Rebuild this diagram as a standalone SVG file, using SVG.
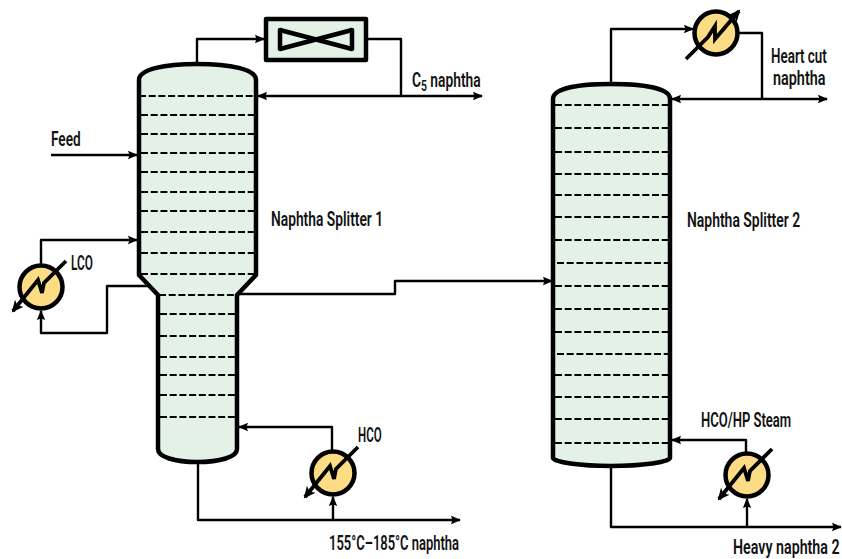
<svg xmlns="http://www.w3.org/2000/svg" width="842" height="559" viewBox="0 0 842 559">
<style>
.v{fill:#e4f1e6;stroke:#000;stroke-width:4.5;stroke-linejoin:round}
.t{fill:none;stroke:#000;stroke-width:2;stroke-dasharray:7 2.7}
.c{fill:none;stroke:#000;stroke-width:2.4;stroke-linejoin:round}
.hx{fill:#fddc86;stroke:#000;stroke-width:4.5}
.hl{fill:none;stroke:#000;stroke-width:3.8;stroke-linejoin:miter}
text{font-family:"Roboto","Liberation Sans",sans-serif;font-size:20px;font-weight:600;fill:#111}
</style>
<defs>
<marker id="a" markerUnits="userSpaceOnUse" markerWidth="12" markerHeight="10" refX="9" refY="5" orient="auto"><path d="M0 0.8L10 5L0 9.2L1.5 5Z" fill="#000"/></marker>
<marker id="b" markerUnits="userSpaceOnUse" markerWidth="14" markerHeight="14" refX="10" refY="6" orient="auto"><path d="M0 0.5L12 6L0 11.5L3 6Z" fill="#000"/></marker>
<path id="bolt" class="hl" d="M25 -26L3 -4L1 6L-3 -7L-28 24" marker-end="url(#b)"/>
<path id="boltr" class="hl" d="M-30 26L-8 4L-1 -7L-1 6L23 -22" marker-end="url(#b)"/>
</defs>
<g id="column1">
<path class="v" d="M139 80C139 69 165 64 197 64C230 64 256 69 256 80V275L237 295V449C237 457 220 462 197 462C175 462 158 457 158 449V295L139 275Z"/>
<path class="t" d="M139 96H256M141 115H254M141 134H254M141 153H254M141 172H254M141 192H254M141 211H254M141 232H254M141 253H254M141 274H256M159 295H237M160 314H235M160 336H235M160 357H235M160 375H235M160 395H235M160 417H235"/>
</g>
<g id="column2">
<path class="v" d="M553 99C553 88 580 84 611 84C642 84 670 88 670 99V458C670 462 642 466 611 466C580 466 553 462 553 458Z"/>
<path class="t" d="M555 105H668M555 128H668M555 152H668M555 174H668M555 195H668M555 217H668M555 240H668M557 263H668M555 286H668M555 309H668M555 332H668M557 354H668M555 375H668M555 397H668M555 419H668M555 443H668"/>
</g>
<g id="condenser">
<rect x="266" y="19" width="100" height="41" class="v"/>
<path d="M280 30L352 49V30L280 49Z" fill="none" stroke="#000" stroke-width="4.5" stroke-linejoin="round"/>
</g>
<g id="exchanger-lco">
<circle cx="41" cy="287" r="21.5" class="hx"/>
<use href="#bolt" x="41" y="287"/>
</g>
<g id="exchanger-hco">
<circle cx="333" cy="473" r="21.5" class="hx"/>
<use href="#bolt" x="333" y="473"/>
</g>
<g id="exchanger-top">
<circle cx="716" cy="33" r="21.5" class="hx"/>
<use href="#boltr" x="716" y="33"/>
</g>
<g id="exchanger-bottom">
<circle cx="747" cy="475" r="21.5" class="hx"/>
<use href="#bolt" x="747" y="475"/>
</g>
<g id="connectors">
<path class="c" d="M197 62V39H264" marker-end="url(#a)"/>
<path class="c" d="M368 39H401V96"/>
<path class="c" d="M401 96H258" marker-end="url(#a)"/>
<path class="c" d="M401 96H482" marker-end="url(#a)"/>
<path class="c" d="M51 155H137" marker-end="url(#a)"/>
<path class="c" d="M41 264V240H137" marker-end="url(#a)"/>
<path class="c" d="M148 286H107V333H41V311" marker-end="url(#a)"/>
<path class="c" d="M238 294H395V281H552" marker-end="url(#a)"/>
<path class="c" d="M332 450V427H239" marker-end="url(#a)"/>
<path class="c" d="M198 463V520H460" marker-end="url(#a)"/>
<path class="c" d="M333 520V497" marker-end="url(#a)"/>
<path class="c" d="M611 82V29H693" marker-end="url(#a)"/>
<path class="c" d="M739 33H762V99"/>
<path class="c" d="M762 99H672" marker-end="url(#a)"/>
<path class="c" d="M762 99H827" marker-end="url(#a)"/>
<path class="c" d="M746 452V440H672" marker-end="url(#a)"/>
<path class="c" d="M611 467V527H841" marker-end="url(#a)"/>
<path class="c" d="M747 527V499" marker-end="url(#a)"/>
</g>
<g id="labels">
<text transform="translate(51 146) scale(.68 1)">Feed</text>
<text transform="translate(412 87) scale(.69 1)">C<tspan font-size="15" dy="4">5</tspan><tspan dy="-4"> naphtha</tspan></text>
<text transform="translate(271 226) scale(.69 1)">Naphtha Splitter 1</text>
<text transform="translate(71 270) scale(.59 1)">LCO</text>
<text transform="translate(358 442) scale(.575 1)">HCO</text>
<text transform="translate(329 550) scale(.648 1)">155°C–185°C naphtha</text>
<text transform="translate(687 227) scale(.697 1)">Naphtha Splitter 2</text>
<text transform="translate(771 63) scale(.67 1)">Heart cut</text>
<text transform="translate(773 85) scale(.72 1)">naphtha</text>
<text transform="translate(701 427) scale(.652 1)">HCO/HP Steam</text>
<text transform="translate(733 554) scale(.712 1)">Heavy naphtha 2</text>
</g>
</svg>
